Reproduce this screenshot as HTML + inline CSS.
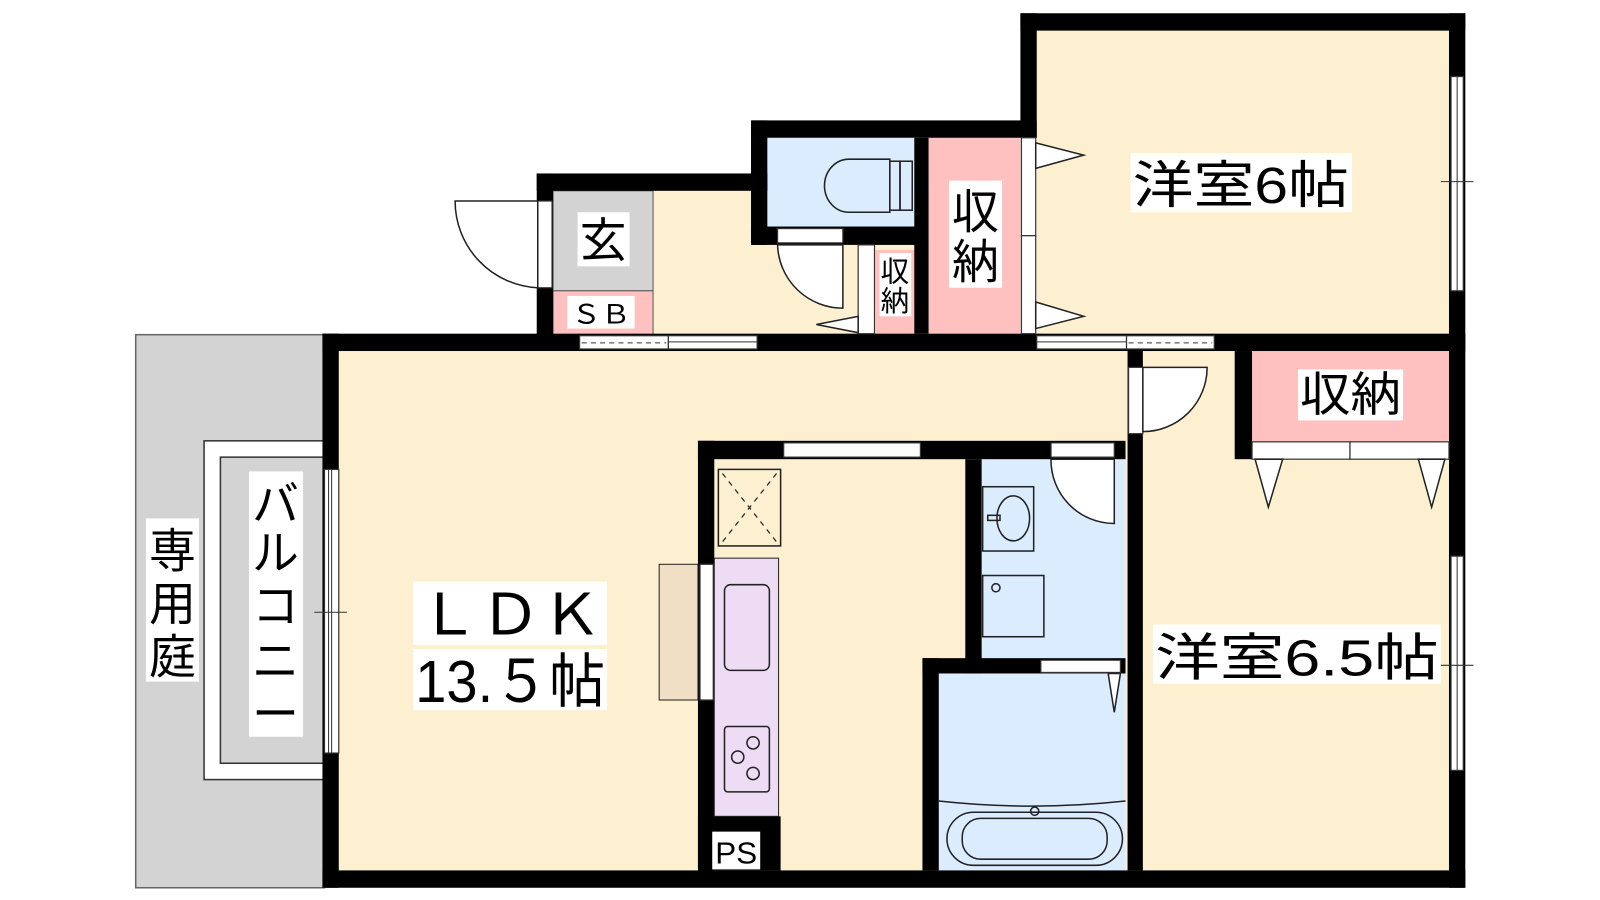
<!DOCTYPE html>
<html><head><meta charset="utf-8"><style>
html,body{margin:0;padding:0;background:#fff;}
svg{display:block;}
text{font-family:"Liberation Sans","Noto Sans CJK JP",sans-serif;fill:#000;}
</style></head><body>
<svg width="1600" height="900" viewBox="0 0 1568 882" preserveAspectRatio="none" xmlns="http://www.w3.org/2000/svg">
<rect width="1568" height="882" fill="#fff"/>
<!-- garden -->
<rect x="133" y="328" width="185" height="542" fill="#d3d3d3" stroke="#666" stroke-width="1.5"/>
<rect x="200" y="432" width="118" height="332" fill="#fff" stroke="#333" stroke-width="1.5"/>
<rect x="216" y="448" width="102" height="300" fill="#d3d3d3" stroke="#333" stroke-width="1.5"/>
<!-- floors -->
<rect x="332" y="344" width="1088" height="509" fill="#fdf0d0"/>
<rect x="1016" y="30" width="404" height="300" fill="#fdf0d0"/>
<rect x="640" y="187" width="280" height="142" fill="#fdf0d0"/>
<rect x="542" y="187" width="98" height="98" fill="#d3d3d3" stroke="#555" stroke-width="1"/>
<rect x="542" y="285" width="98" height="43" fill="#ffc0c0" stroke="#555" stroke-width="1"/>
<rect x="752" y="135" width="144" height="87" fill="#dbecfe"/>
<rect x="910" y="135" width="90" height="192" fill="#ffc0c0"/>
<rect x="858" y="245" width="38" height="82" fill="#ffc0c0"/>
<rect x="962" y="450" width="141" height="195" fill="#dbecfe"/>
<rect x="920" y="660" width="183" height="193" fill="#dbecfe"/>
<rect x="1227" y="344" width="193" height="89" fill="#ffc0c0"/>
<!-- walls -->
<g fill="#000">
<rect x="316" y="327" width="16" height="543"/>
<rect x="316" y="853" width="1120" height="17"/>
<rect x="1420" y="13" width="16" height="857"/>
<rect x="1000" y="13" width="436" height="17"/>
<rect x="1000" y="13" width="16" height="122"/>
<rect x="736" y="118" width="280" height="17"/>
<rect x="736" y="118" width="16" height="122"/>
<rect x="736" y="222" width="170" height="18"/>
<rect x="896" y="135" width="14" height="192"/>
<rect x="526" y="170" width="226" height="17"/>
<rect x="526" y="170" width="16" height="158"/>
<rect x="316" y="327" width="1120" height="17"/>
<rect x="1105" y="344" width="15" height="509"/>
<rect x="1210" y="344" width="17" height="106"/>
<rect x="684" y="432" width="419" height="18"/>
<rect x="684" y="432" width="16" height="421"/>
<rect x="946" y="450" width="16" height="210"/>
<rect x="904" y="645" width="199" height="15"/>
<rect x="904" y="645" width="16" height="208"/>
<rect x="684" y="800" width="81" height="53"/>
</g>
<!-- openings -->
<g fill="#fff" stroke="#333" stroke-width="1.2">
<rect x="318" y="460" width="14" height="278"/>
<rect x="568" y="329" width="87" height="13"/><rect x="655" y="329" width="87" height="13"/>
<rect x="1016" y="329" width="88" height="13"/><rect x="1104" y="329" width="86" height="13"/>
<rect x="1422" y="75" width="12" height="210"/>
<rect x="1422" y="545" width="12" height="210"/>
<rect x="527" y="197" width="14" height="85"/>
<rect x="762" y="224" width="64" height="14"/>
<rect x="1001" y="135" width="14" height="96"/><rect x="1001" y="231" width="14" height="96"/>
<rect x="841" y="240" width="16" height="87"/>
<rect x="1106" y="360" width="14" height="65"/>
<rect x="1227" y="433" width="96" height="17"/><rect x="1323" y="433" width="97" height="17"/>
<rect x="768" y="434" width="134" height="14"/>
<rect x="1030" y="434" width="62" height="14"/>
<rect x="1020" y="647" width="78" height="12"/>
<rect x="686" y="553" width="13" height="133"/>
</g>
<g stroke="#333" stroke-width="1" fill="none">
<line x1="325" y1="460" x2="325" y2="738"/><line x1="322" y1="460" x2="322" y2="738"/>
<line x1="308" y1="600" x2="340" y2="600"/>
<line x1="1428" y1="75" x2="1428" y2="285"/><line x1="1412" y1="178" x2="1444" y2="178"/>
<line x1="1428" y1="545" x2="1428" y2="755"/><line x1="1412" y1="652" x2="1444" y2="652"/>
<line x1="655" y1="335" x2="742" y2="335"/><line x1="570" y1="336" x2="653" y2="336" stroke-dasharray="5,4"/>
<line x1="1016" y1="335" x2="1104" y2="335"/><line x1="1106" y1="336" x2="1188" y2="336" stroke-dasharray="5,4"/>
</g>
<!-- doors -->
<g fill="#fff" stroke="#222" stroke-width="1.5">
<path d="M527 282 L527 197 L446 197 A85 85 0 0 0 527 282 Z"/>
<path d="M762 240 L826 240 L826 302 A64 64 0 0 1 762 240 Z"/>
<path d="M1120 360 L1183 360 A63 63 0 0 1 1120 423 Z"/>
<path d="M1030 450 L1092 450 L1092 513 A62 62 0 0 1 1030 450 Z"/>
<path d="M1015 140 L1062 152 L1015 165 Z"/>
<path d="M1015 296 L1062 310 L1015 322 Z"/>
<path d="M841 310 L800 318 L841 326 Z"/>
<path d="M1230 450 L1243 497 L1257 450 Z"/>
<path d="M1390 450 L1403 497 L1416 450 Z"/>
<path d="M1086 660 L1092 698 L1098 660 Z"/>
</g>
<!-- fixtures -->
<g fill="none" stroke="#222" stroke-width="1.5">
<path d="M872 156 L832 156 A24 26 0 0 0 832 208 L872 208 Z" fill="#dbecfe"/>
<rect x="872" y="158" width="10" height="48"/>
<rect x="882" y="158" width="12" height="48"/>
<rect x="704" y="460" width="61" height="75" fill="#fdf0d0"/>
<path d="M708 464 L761 531 M761 464 L708 531" stroke-dasharray="5,5" stroke-width="1.2"/>
<rect x="700" y="547" width="63" height="253" fill="#eedcf5" stroke-width="1"/>
<rect x="710" y="573" width="44" height="84" rx="6"/>
<rect x="710" y="712" width="44" height="64" rx="3"/>
<circle cx="738" cy="728" r="6"/><circle cx="723" cy="742" r="6"/><circle cx="738" cy="758" r="6"/>
<rect x="646" y="553" width="38" height="133" fill="#f0dfc5" stroke-width="1"/>
<rect x="963" y="477" width="50" height="63"/>
<ellipse cx="993" cy="508" rx="16" ry="22"/>
<rect x="968" y="505" width="12" height="5"/>
<rect x="963" y="564" width="60" height="60"/>
<circle cx="976" cy="576" r="4"/>
<path d="M920 785 Q1010 795 1103 785"/>
<rect x="928" y="796" width="172" height="52" rx="26"/>
<rect x="943" y="802" width="142" height="40" rx="18"/>
<circle cx="1014" cy="795" r="4"/>
</g>
<!-- labels -->
<g fill="#fff">
<rect x="1108" y="150" width="217" height="58"/>
<rect x="1130" y="612" width="282" height="58"/>
<rect x="1272" y="362" width="103" height="50"/>
<rect x="930" y="177" width="52" height="105"/>
<rect x="862" y="248" width="31" height="62"/>
<rect x="566" y="208" width="51" height="53"/>
<rect x="556" y="290" width="66" height="32"/>
<rect x="244" y="462" width="53" height="260"/>
<rect x="143" y="508" width="52" height="160"/>
<rect x="405" y="570" width="190" height="62"/>
<rect x="405" y="636" width="190" height="60"/>
<rect x="698" y="815" width="47" height="37"/>
</g>
<g font-size="50">
<text x="1110" y="199" textLength="212" lengthAdjust="spacingAndGlyphs">洋室6帖</text>
<text x="1132" y="662" textLength="278" lengthAdjust="spacingAndGlyphs">洋室6.5帖</text>
<text x="1274" y="403" font-size="46" textLength="99" lengthAdjust="spacingAndGlyphs">収納</text>
<text x="933" y="224" font-size="46">収</text><text x="933" y="273" font-size="46">納</text>
<text x="863" y="276" font-size="28">収</text><text x="863" y="305" font-size="28">納</text>
<text x="568" y="252" font-size="46">玄</text>
<text x="560" y="317" font-size="26" textLength="58" lengthAdjust="spacingAndGlyphs">ＳＢ</text>
<text x="247" y="510" font-size="46">バ</text><text x="247" y="558" font-size="46">ル</text>
<text x="247" y="610" font-size="46">コ</text><text x="247" y="664" font-size="46">ニ</text>
<text x="247" y="716" font-size="46">ー</text>
<text x="146" y="556" font-size="46">専</text><text x="146" y="608" font-size="46">用</text><text x="146" y="660" font-size="46">庭</text>
<text x="410" y="622" font-size="56" textLength="180" lengthAdjust="spacingAndGlyphs">ＬＤＫ</text>
<text x="407" y="688" font-size="58" textLength="186" lengthAdjust="spacingAndGlyphs">13.５帖</text>
<text x="701" y="846" font-size="30" textLength="41" lengthAdjust="spacingAndGlyphs">PS</text>
</g>
</svg>
</body></html>
